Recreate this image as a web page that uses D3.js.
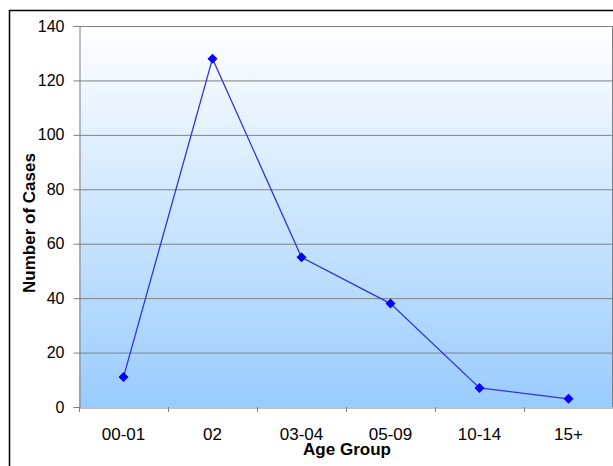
<!DOCTYPE html>
<html><head><meta charset="utf-8">
<script src="https://cdn.jsdelivr.net/npm/d3@7"></script>
<style>body{margin:0;background:#fff}svg{display:block}</style>
</head><body>
<script>
const categories = ["00-01","02","03-04","05-09","10-14","15+"];
const cases = [11,128,55,38,7,3];
const yTicks = [0,20,40,60,80,100,120,140];

(function(){
const W=613,H=466;
const FONT="Liberation Sans, Arial, sans-serif";
const svg=d3.select("body").append("svg").attr("width",W).attr("height",H);
const defs=svg.append("defs");
const g=defs.append("linearGradient").attr("id","bg").attr("x1",0).attr("y1",0).attr("x2",0).attr("y2",1);
g.append("stop").attr("offset","0%").attr("stop-color","#ffffff");
g.append("stop").attr("offset","100%").attr("stop-color","#99ccff");

// outer frame
svg.append("rect").attr("x",9.5).attr("y",10.5).attr("width",W).attr("height",H)
  .attr("fill","#fff").attr("stroke","#000").attr("stroke-width",1.5);

const pL=79,pR=613,pT=26,pB=407;
const x=d3.scaleBand().domain(categories).range([pL,pR]);
const y=d3.scaleLinear().domain([0,140]).range([pB,pT]);

svg.append("rect").attr("x",pL).attr("y",pT).attr("width",pR-pL).attr("height",pB-pT).attr("fill","url(#bg)");

// gridlines
svg.append("g").selectAll("line").data(yTicks.filter(d=>d>0)).join("line")
  .attr("x1",pL).attr("x2",pR).attr("y1",d=>y(d)+0.5).attr("y2",d=>y(d)+0.5)
  .attr("stroke","#808080").attr("stroke-width",1);
svg.append("line").attr("x1",pR-0.5).attr("x2",pR-0.5).attr("y1",pT).attr("y2",pB).attr("stroke","#808080");

// y axis
const ya=svg.append("g").attr("transform",`translate(${pL+0.5},0)`)
  .call(d3.axisLeft(y).tickValues(yTicks).tickSize(6).tickPadding(9));
ya.select(".domain").attr("stroke","#808080");
ya.selectAll(".tick line").attr("stroke","#808080");
ya.selectAll("text").attr("font-family",FONT).attr("font-size",16).attr("fill","#000");

// x axis
const xa=svg.append("g").attr("transform",`translate(0,${pB+0.5})`)
  .call(d3.axisBottom(x).tickSize(0).tickPadding(20));
xa.select(".domain").attr("stroke","#808080");
xa.selectAll("text").attr("font-family",FONT).attr("font-size",17).attr("fill","#000");
const bounds=categories.map(c=>x(c)).concat([pR]);
svg.append("g").selectAll("line").data(bounds).join("line")
  .attr("x1",d=>Math.round(d)+0.5).attr("x2",d=>Math.round(d)+0.5).attr("y1",pB).attr("y2",pB+5)
  .attr("stroke","#808080");

// line
const cx=c=>x(c)+x.bandwidth()/2;
const data=categories.map((c,i)=>({c,v:cases[i]}));
svg.append("path").datum(data)
  .attr("d",d3.line().x(d=>cx(d.c)).y(d=>y(d.v)))
  .attr("fill","none").attr("stroke","#3333dd").attr("stroke-width",1.3);
svg.append("g").selectAll("path").data(data).join("path")
  .attr("d",d3.symbol(d3.symbolSquare,50)())
  .attr("transform",d=>`translate(${cx(d.c)},${y(d.v)}) rotate(45)`)
  .attr("fill","#0000ff");

// axis titles
svg.append("text").attr("x",347).attr("y",455).attr("text-anchor","middle")
  .attr("font-family",FONT).attr("font-size",17).attr("font-weight","bold").text("Age Group");
svg.append("text").attr("transform",`translate(35,223) rotate(-90)`).attr("text-anchor","middle")
  .attr("font-family",FONT).attr("font-size",17).attr("font-weight","bold").text("Number of Cases");
})();
</script>
</body></html>
